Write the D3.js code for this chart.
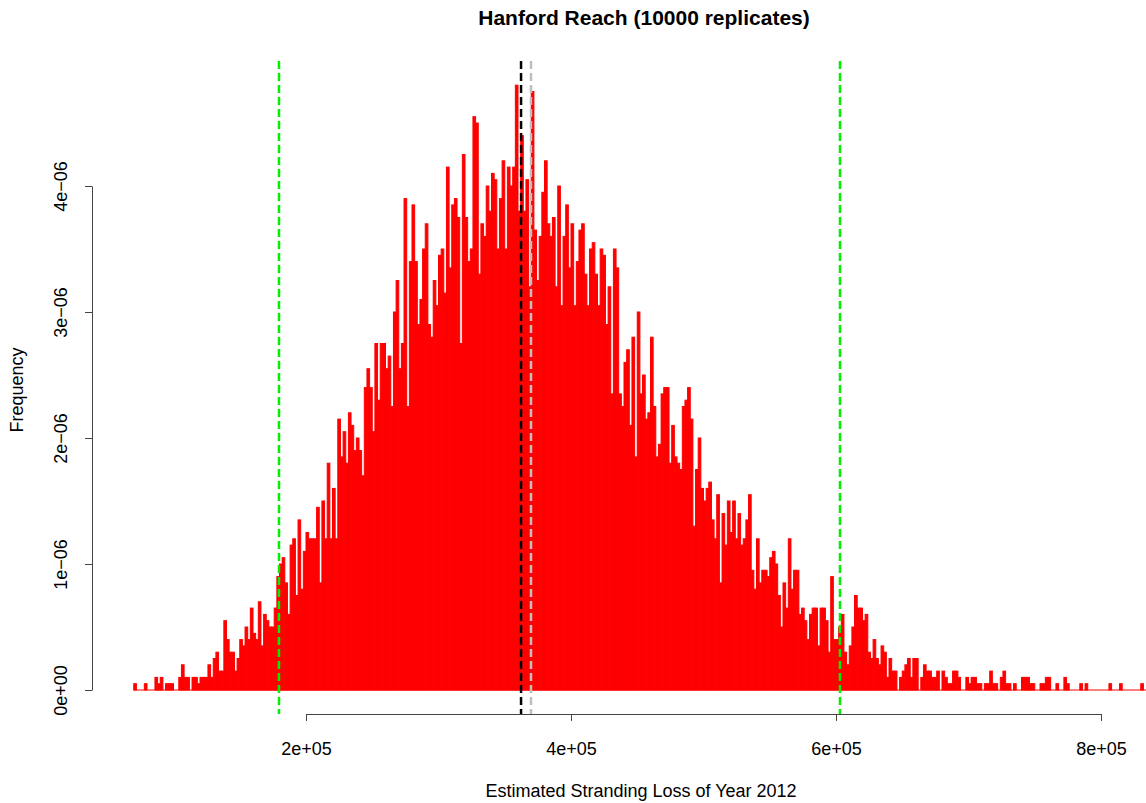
<!DOCTYPE html>
<meta charset="utf-8">
<script src="https://d3js.org/d3.v7.min.js"></script>
<style>
  body { margin: 0; background: #fff; }
  text { font-family: "Liberation Sans", Arial, sans-serif; fill: #000; }
</style>
<div id="chart"></div>
<script>
// histogram of 10000 replicates, bins of 2000 starting at 70000 (counts per bin)
var nReps = 10000;
var binStart = 70000;
var binWidth = 2000;
var counts = [
  1,0,0,0,1,0,0,0,2,1, 2,0,1,1,1,0,0,2,4,2,
  2,0,2,2,1,2,2,2,4,2, 5,6,3,3,11,8,6,6,3,5,
  8,7,10,8,13,9,8,14,7,12, 11,10,10,13,18,20,21,17,12,23,
  24,15,27,16,22,25,24,24,24,29, 17,30,24,36,24,32,24,43,37,41,
  36,44,42,38,40,38,34,48,51,48, 41,55,46,55,55,51,53,45,60,65,
  51,55,78,45,68,77,68,58,62,70, 74,58,56,65,61,69,70,63,83,67,
  77,78,75,55,85,75,68,70,91,90, 66,74,72,80,76,82,81,70,78,84,
  70,83,80,83,96,76,88,76,81,64, 95,73,65,72,79,84,74,72,75,64,
  80,61,72,77,67,74,61,68,73,74, 66,61,70,71,66,61,70,69,58,64,
  47,70,67,47,45,52,54,42,56,37, 60,47,50,43,44,56,45,37,39,47,
  48,48,36,42,37,36,35,45,46,48, 43,26,35,40,32,30,32,33,27,24,
  31,17,28,23,30,25,30,24,28,23, 24,27,31,19,16,24,17,19,19,18,
  21,22,20,15,10,17,13,24,16,19, 19,12,13,11,8,12,13,13,7,13,
  13,11,6,18,8,8,10,12,6,4, 7,10,15,13,13,11,12,6,5,8,
  5,4,7,6,2,5,3,3,0,2, 3,4,5,2,5,5,0,2,4,3,
  3,2,2,3,0,3,2,1,1,3, 3,2,0,0,2,1,2,2,1,1,
  0,1,1,3,1,1,0,2,3,1, 1,0,1,0,0,2,2,2,1,1,
  0,0,1,1,2,2,0,0,1,0, 0,2,1,0,0,0,0,1,0,1,
  0,0,0,0,0,0,0,0,1,0, 0,0,1,0,0,0,0,0,0,0,
  1,0,0,0,0,0,0,0,0,0, 0,0
];

// reference lines: 2.5% / 97.5% limits, mean, median
var limitValues = [179600, 603000];
var meanValue = 362300;
var medianValue = 369800;

var xTicks = [2e5, 4e5, 6e5, 8e5];
var xTickLabels = ["2e+05", "4e+05", "6e+05", "8e+05"];
var yTicks = [0, 1e-6, 2e-6, 3e-6, 4e-6];
var yTickLabels = ["0e+00", "1e\u221206", "2e\u221206", "3e\u221206", "4e\u221206"];

var width = 1146, height = 803;
var plotTop = 61, plotBottom = 714;

var svg = d3.select("#chart")
  .append("svg")
    .attr("width", width)
    .attr("height", height);

var x = d3.scaleLinear().domain([2e5, 8e5]).range([306, 1101]);
var y = d3.scaleLinear().domain([0, 4e-6]).range([690, 186]);

var bins = counts.map(function(c, i) {
  return {x0: binStart + i * binWidth, x1: binStart + (i + 1) * binWidth, density: c / (nReps * binWidth)};
});

// bars (empty bins still leave their red outline on the baseline)
svg.append("line")
    .attr("x1", x(bins[0].x0)).attr("x2", x(bins[bins.length - 1].x1))
    .attr("y1", y(0)).attr("y2", y(0))
    .attr("stroke", "#ff0000");

svg.append("g")
  .selectAll("rect")
  .data(bins.filter(d => d.density > 0))
  .join("rect")
    .attr("x", d => x(d.x0))
    .attr("width", d => x(d.x1) - x(d.x0))
    .attr("y", d => y(d.density))
    .attr("height", d => y(0) - y(d.density))
    .attr("fill", "#ff0000")
    .attr("stroke", "#ff0000")
    .attr("stroke-width", 1);

// vertical lines
function vline(v, color) {
  svg.append("line")
    .attr("x1", x(v)).attr("x2", x(v))
    .attr("y1", plotTop).attr("y2", plotBottom)
    .attr("stroke", color)
    .attr("stroke-width", 2.5)
    .attr("stroke-dasharray", "8,4");
}
limitValues.forEach(v => vline(v, "#00f000"));
vline(meanValue, "#000000");
vline(medianValue, "#bebebe");

// x axis
var xAxis = svg.append("g")
    .attr("transform", `translate(0,${plotBottom})`)
    .call(d3.axisBottom(x).tickValues(xTicks).tickFormat((d, i) => xTickLabels[i]).tickSize(7).tickSizeOuter(0));
xAxis.selectAll("path, line").attr("stroke", "#444");
xAxis.selectAll("text")
    .attr("font-size", 18)
    .attr("font-family", "Liberation Sans, Arial, sans-serif")
    .attr("fill", "#000")
    .attr("dy", 0)
    .attr("y", 41);

// y axis
var yAxis = svg.append("g")
    .attr("transform", "translate(92,0)")
    .call(d3.axisLeft(y).tickValues(yTicks).tickFormat((d, i) => yTickLabels[i]).tickSize(7).tickSizeOuter(0));
yAxis.selectAll("path, line").attr("stroke", "#444");
yAxis.selectAll("text")
    .attr("font-size", 18)
    .attr("font-family", "Liberation Sans, Arial, sans-serif")
    .attr("fill", "#000")
    .attr("text-anchor", "middle")
    .attr("dy", 0)
    .attr("x", 0)
    .attr("y", -25)
    .attr("transform", "rotate(-90)");

// titles
svg.append("text")
    .attr("x", 644).attr("y", 25)
    .attr("text-anchor", "middle")
    .attr("font-size", 21)
    .attr("font-weight", "bold")
    .text("Hanford Reach (10000 replicates)");

svg.append("text")
    .attr("x", 641).attr("y", 797)
    .attr("text-anchor", "middle")
    .attr("font-size", 18)
    .text("Estimated Stranding Loss of Year 2012");

svg.append("text")
    .attr("transform", "translate(23,390) rotate(-90)")
    .attr("text-anchor", "middle")
    .attr("font-size", 18)
    .text("Frequency");
</script>
